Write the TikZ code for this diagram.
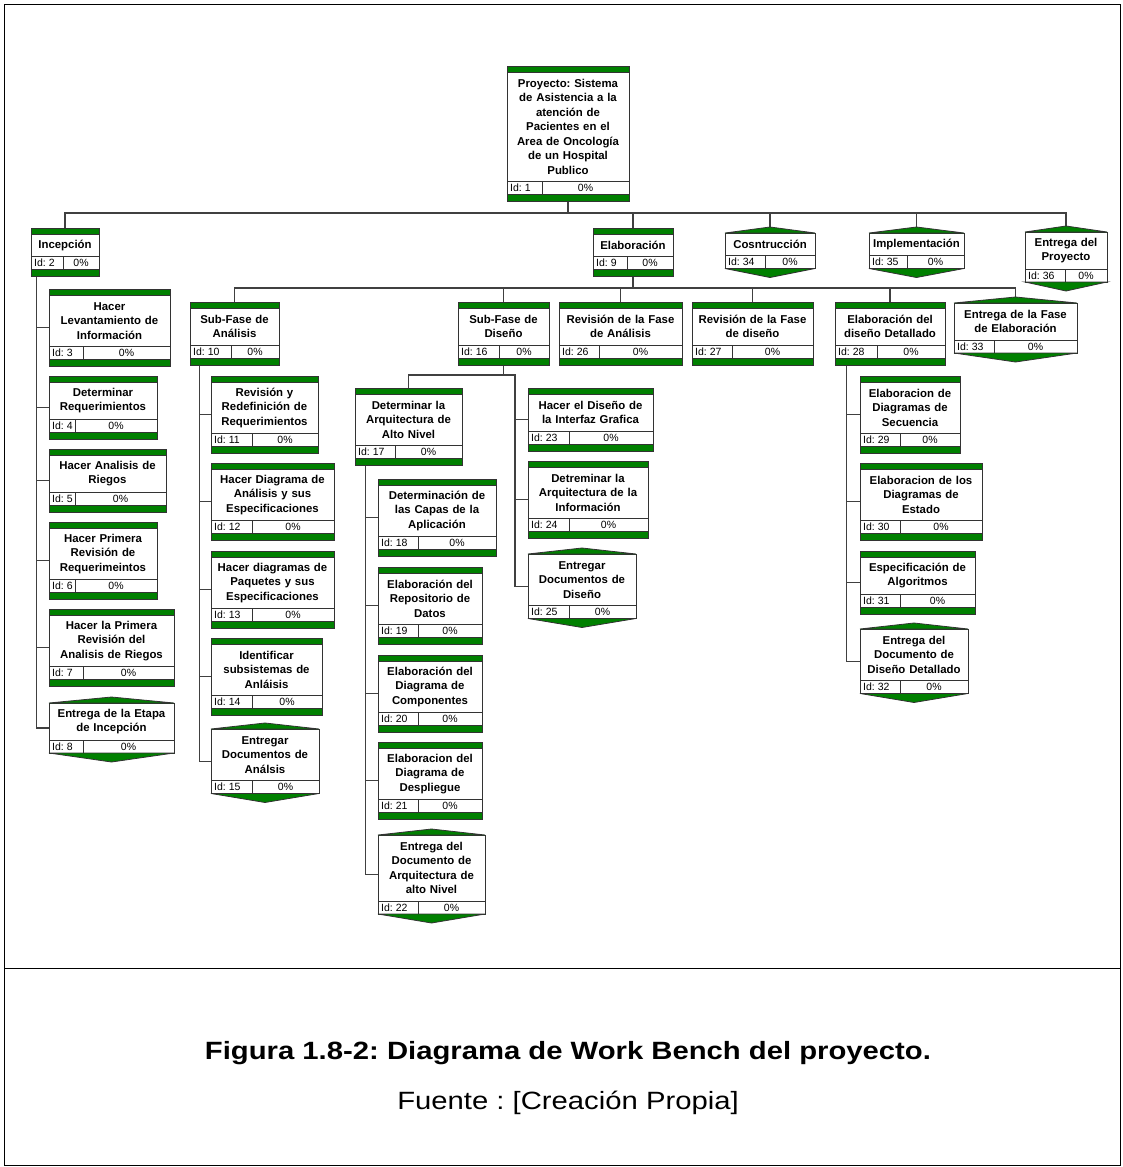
\documentclass[tikz,border=0pt]{standalone}
\usepackage{fontspec}
\setmainfont{Liberation Sans}
\newfontfamily\capfamily[FakeStretch=1.17]{Liberation Sans}
\usepackage{xcolor}
\usepackage{tikz}
\usetikzlibrary{positioning,calc,fit,backgrounds}
\frenchspacing
\definecolor{wbgreen}{RGB}{0,128,0}
\newcommand{\wbfont}{\fontsize{11.4}{14.5}\selectfont\bfseries}
\newcommand{\wbidfont}{\fontsize{10.5}{12}\selectfont}
\newcommand{\wbtask}[8]{%
  \pgfmathsetmacro{\wbyb}{#3+34+14.5*#5}%
  \pgfmathsetmacro{\wbw}{#4-#2-4}%
  \node[wbframe, fit={(#2,#3) (#4,\wbyb)}] (#1) {};
  \draw[wbbar] (#2,#3) rectangle (#4,#3+6);
  \draw[wbbar] (#2,\wbyb-7) rectangle (#4,\wbyb);
  \draw[wbedge] (#2,\wbyb-20) -- (#4,\wbyb-20) (#6,\wbyb-20) -- (#6,\wbyb-7);
  \node[wbtext, text width=\wbw pt] (#1-txt) at ({(#2+#4)/2},{(#3+6+\wbyb-20)/2}) {#7};
  \node[wbid, anchor=west] (#1-id) at (#2+3,\wbyb-13.5) {Id: #8};
  \node[wbid] (#1-pc) at ({(#6+#4)/2},\wbyb-13.5) {0\%};
}
\newcommand{\wbmile}[8]{%
  \pgfmathsetmacro{\wbyt}{#3+6}%
  \pgfmathsetmacro{\wbyb}{#3+27+14.5*#5}%
  \pgfmathsetmacro{\wbw}{#4-#2-4}%
  \node[wbframe, fit={(#2,\wbyt) (#4,\wbyb)}] (#1) {};
  \draw[wbbar] (#2,\wbyt) -- ({(#2+#4)/2},#3) -- (#4,\wbyt) -- cycle;
  \draw[wbbar] (#2,\wbyb) -- ({(#2+#4)/2},\wbyb+9) -- (#4,\wbyb) -- cycle;
  \draw[wbedge] (#2,\wbyb-13) -- (#4,\wbyb-13) (#6,\wbyb-13) -- (#6,\wbyb);
  \node[wbtext, text width=\wbw pt] (#1-txt) at ({(#2+#4)/2},{(\wbyt+\wbyb-13)/2}) {#7};
  \node[wbid, anchor=west] (#1-id) at (#2+3,\wbyb-6.5) {Id: #8};
  \node[wbid] (#1-pc) at ({(#6+#4)/2},\wbyb-6.5) {0\%};
}

\begin{document}
\begin{tikzpicture}[x=1pt,y=-1pt,
  wbline/.style={draw=black!75, line width=1.2pt},
  wbedge/.style={draw=black!80, line width=0.8pt},
  wbframe/.style={draw=black!80, line width=0.9pt, fill=white, inner sep=0pt},
  wbbar/.style={fill=wbgreen, draw=black!80, line width=0.8pt},
  wbtext/.style={font=\wbfont, align=center, inner sep=0pt},
  wbid/.style={font=\wbidfont, inner sep=0pt}]
  \useasboundingbox (0,0) rectangle (1122,1167);
  \draw[line width=1pt] (4,4) rectangle (1120,1165);
  \draw[line width=1pt] (4,968) -- (1120,968);

  \wbtask{t1}{507}{66}{629}{7}{542}{Proyecto: Sistema\\de Asistencia a la\\atención de\\Pacientes en el\\Area de Oncología\\de un Hospital\\Publico}{1}
  \wbtask{t2}{31}{228}{99}{1}{63}{Incepción}{2}
  \wbtask{t9}{593}{228}{673}{1}{627}{Elaboración}{9}
  \wbmile{m34}{725}{227}{815}{1}{765}{Cosntrucción}{34}
  \wbmile{m35}{869}{227}{964}{1}{907}{Implementación}{35}
  \wbmile{m36}{1025}{226}{1107}{2}{1065}{Entrega del\\Proyecto}{36}

  \wbtask{t10}{190}{302}{279}{2}{231}{Sub-Fase de\\Análisis}{10}
  \wbtask{t16}{458}{302}{549}{2}{499}{Sub-Fase de\\Diseño}{16}
  \wbtask{t26}{559}{302}{682}{2}{599}{Revisión de la Fase\\de Análisis}{26}
  \wbtask{t27}{692}{302}{813}{2}{732}{Revisión de la Fase\\de diseño}{27}
  \wbtask{t28}{835}{302}{945}{2}{877}{Elaboración del\\diseño Detallado}{28}
  \wbmile{m33}{954}{297}{1077}{2}{994}{Entrega de la Fase\\de Elaboración}{33}

  \wbtask{t3}{49}{289}{170}{3}{83}{Hacer\\Levantamiento de\\Información}{3}
  \wbtask{t4}{49}{376}{157}{2}{75}{Determinar\\Requerimientos}{4}
  \wbtask{t5}{49}{449}{166}{2}{75}{Hacer Analisis de\\Riegos}{5}
  \wbtask{t6}{49}{522}{157}{3}{75}{Hacer Primera\\Revisión de\\Requerimeintos}{6}
  \wbtask{t7}{49}{609}{174}{3}{83}{Hacer la Primera\\Revisión del\\Analisis de Riegos}{7}
  \wbmile{m8}{49}{697}{174}{2}{83}{Entrega de la Etapa\\de Incepción}{8}

  \wbtask{t11}{211}{376}{318}{3}{252}{Revisión y\\Redefinición de\\Requerimientos}{11}
  \wbtask{t12}{211}{463}{334}{3}{252}{Hacer Diagrama de\\Análisis y sus\\Especificaciones}{12}
  \wbtask{t13}{211}{551}{334}{3}{252}{Hacer diagramas de\\Paquetes y sus\\Especificaciones}{13}
  \wbtask{t14}{211}{638}{322}{3}{252}{Identificar\\subsistemas de\\Anláisis}{14}
  \wbmile{m15}{211}{723}{319}{3}{252}{Entregar\\Documentos de\\Análsis}{15}

  \wbtask{t17}{355}{388}{462}{3}{395}{Determinar la\\Arquitectura de\\Alto Nivel}{17}
  \wbtask{t18}{378}{479}{496}{3}{418}{Determinación de\\las Capas de la\\Aplicación}{18}
  \wbtask{t19}{378}{567}{482}{3}{418}{Elaboración del\\Repositorio de\\Datos}{19}
  \wbtask{t20}{378}{655}{482}{3}{418}{Elaboración del\\Diagrama de\\Componentes}{20}
  \wbtask{t21}{378}{742}{482}{3}{418}{Elaboracion del\\Diagrama de\\Despliegue}{21}
  \wbmile{m22}{378}{829}{485}{4}{418}{Entrega del\\Documento de\\Arquitectura de\\alto Nivel}{22}
  \wbtask{t23}{528}{388}{653}{2}{569}{Hacer el Diseño de\\la Interfaz Grafica}{23}
  \wbtask{t24}{528}{461}{648}{3}{569}{Detreminar la\\Arquitectura de la\\Información}{24}
  \wbmile{m25}{528}{548}{636}{3}{569}{Entregar\\Documentos de\\Diseño}{25}

  \wbtask{t29}{860}{376}{960}{3}{900}{Elaboracion de\\Diagramas de\\Secuencia}{29}
  \wbtask{t30}{860}{463}{982}{3}{900}{Elaboracion de los\\Diagramas de\\Estado}{30}
  \wbtask{t31}{860}{551}{975}{2}{900}{Especificación de\\Algoritmos}{31}
  \wbmile{m32}{860}{623}{968}{3}{900}{Entrega del\\Documento de\\Diseño Detallado}{32}

  \coordinate (lvl1) at (0,213);
  \coordinate (lvl2) at (0,288);
  \coordinate (disbar) at (515,375);
  \begin{scope}[on background layer]
    \draw[wbline] (t1.south) -- (t1.south |- lvl1);
    \draw[wbline] (t2.north) |- (m36.north |- lvl1) -- (m36.north);
    \foreach \n in {t9,m34,m35} \draw[wbline] (\n.north) -- (\n.north |- lvl1);
    \draw[wbline] (t9.south) -- (t9.south |- lvl2);
    \draw[wbline] (t10.north) |- (m33.north |- lvl2) -- (m33.north);
    \foreach \n in {t16,t26,t27,t28} \draw[wbline] (\n.north) -- (\n.north |- lvl2);
    \foreach \n in {t3,t4,t5,t6,t7,m8} \draw[wbline] ([xshift=6pt]t2.south west) |- (\n.west);
    \foreach \n in {t11,t12,t13,t14,m15} \draw[wbline] ([xshift=10pt]t10.south west) |- (\n.west);
    \draw[wbline] (t16.south) -- (t16.south |- disbar);
    \draw[wbline] (t17.north) |- (disbar) |- (m25.west);
    \foreach \n in {t23,t24} \draw[wbline] (disbar) |- (\n.west);
    \foreach \n in {t18,t19,t20,t21,m22} \draw[wbline] ([xshift=11pt]t17.south west) |- (\n.west);
    \foreach \n in {t29,t30,t31,m32} \draw[wbline] ([xshift=12pt]t28.south west) |- (\n.west);
  \end{scope}

  \node[font=\capfamily\bfseries\fontsize{25}{30}\selectfont] (cap) at (568,1053) {Figura 1.8-2: Diagrama de Work Bench del proyecto.};
  \node[font=\capfamily\fontsize{25}{30}\selectfont] (src) at (568,1103) {Fuente : [Creación Propia]};
\end{tikzpicture}
\end{document}
